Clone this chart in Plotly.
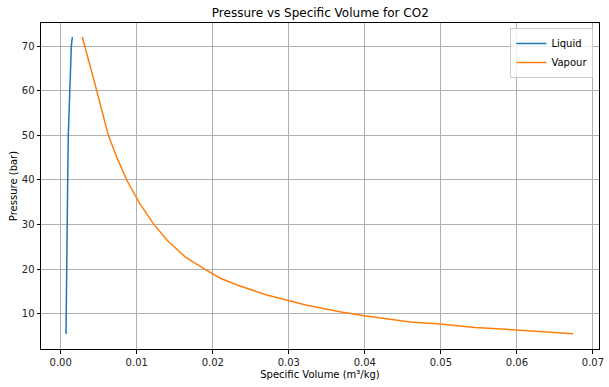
import plotly.graph_objects as go

# Liquid saturation line
liquid_p = [5.5, 10, 20, 30, 40, 50, 60, 65, 70, 72]
liquid_v = [0.00070, 0.00074, 0.00079, 0.00083, 0.00092, 0.00100, 0.00116, 0.00125, 0.00140, 0.00153]

# Vapour saturation line
vapour_p = [72, 65, 60, 55, 50, 45, 40, 35, 30, 26.5, 22.8, 20, 18, 16.5, 14.25, 13.0, 12.0,
            10.5, 9.6, 8.2, 7.76, 7.0, 6.42, 5.6]
vapour_v = [0.00284, 0.0040, 0.00474, 0.0055, 0.00627, 0.0074, 0.00868, 0.0103, 0.01228, 0.0140,
            0.01636, 0.0190, 0.0210, 0.0232, 0.0271, 0.02995, 0.0322, 0.0367, 0.0399, 0.0460,
            0.0499, 0.0545, 0.0599, 0.0674]

x_ticks = [0.00, 0.01, 0.02, 0.03, 0.04, 0.05, 0.06, 0.07]
y_ticks = [10, 20, 30, 40, 50, 60, 70]

fig = go.Figure()
fig.add_trace(go.Scatter(x=liquid_v, y=liquid_p, mode="lines", name="Liquid",
                         line=dict(color="#1f77b4", width=1.5)))
fig.add_trace(go.Scatter(x=vapour_v, y=vapour_p, mode="lines", name="Vapour",
                         line=dict(color="#ff7f0e", width=1.5)))

axis_common = dict(showgrid=True, gridcolor="#b0b0b0", gridwidth=0.8,
                   showline=True, linecolor="black", linewidth=1, mirror=True,
                   ticks="outside", ticklen=3.5, tickcolor="black", zeroline=False,
                   automargin=False,
                   tickfont=dict(family="DejaVu Sans", size=10, color="#222222"))

fig.update_layout(
    width=609, height=387,
    margin=dict(l=41, r=10, t=23, b=38),
    paper_bgcolor="white", plot_bgcolor="white",
    title=dict(text="Pressure vs Specific Volume for CO2", x=0.526, xanchor="center",
               y=0.968, yanchor="middle",
               font=dict(family="DejaVu Sans", size=12, color="black")),
    xaxis=dict(range=[-0.00259, 0.0708], tickvals=x_ticks, tickformat=".2f",
               title=dict(text="Specific Volume (m³/kg)", standoff=4,
                          font=dict(family="DejaVu Sans", size=10, color="black")),
               **axis_common),
    yaxis=dict(range=[2.16, 75.15], tickvals=y_ticks,
               title=dict(text="Pressure (bar)", standoff=2,
                          font=dict(family="DejaVu Sans", size=10, color="black")),
               **axis_common),
    legend=dict(x=0.99, y=0.985, xanchor="right", yanchor="top",
                bgcolor="rgba(255,255,255,0.8)", bordercolor="#cccccc", borderwidth=1,
                font=dict(family="DejaVu Sans", size=10, color="black")),
    showlegend=True,
)

fig.write_html("out.html", config={"displayModeBar": False},
               post_script="document.body.style.margin='0';")
